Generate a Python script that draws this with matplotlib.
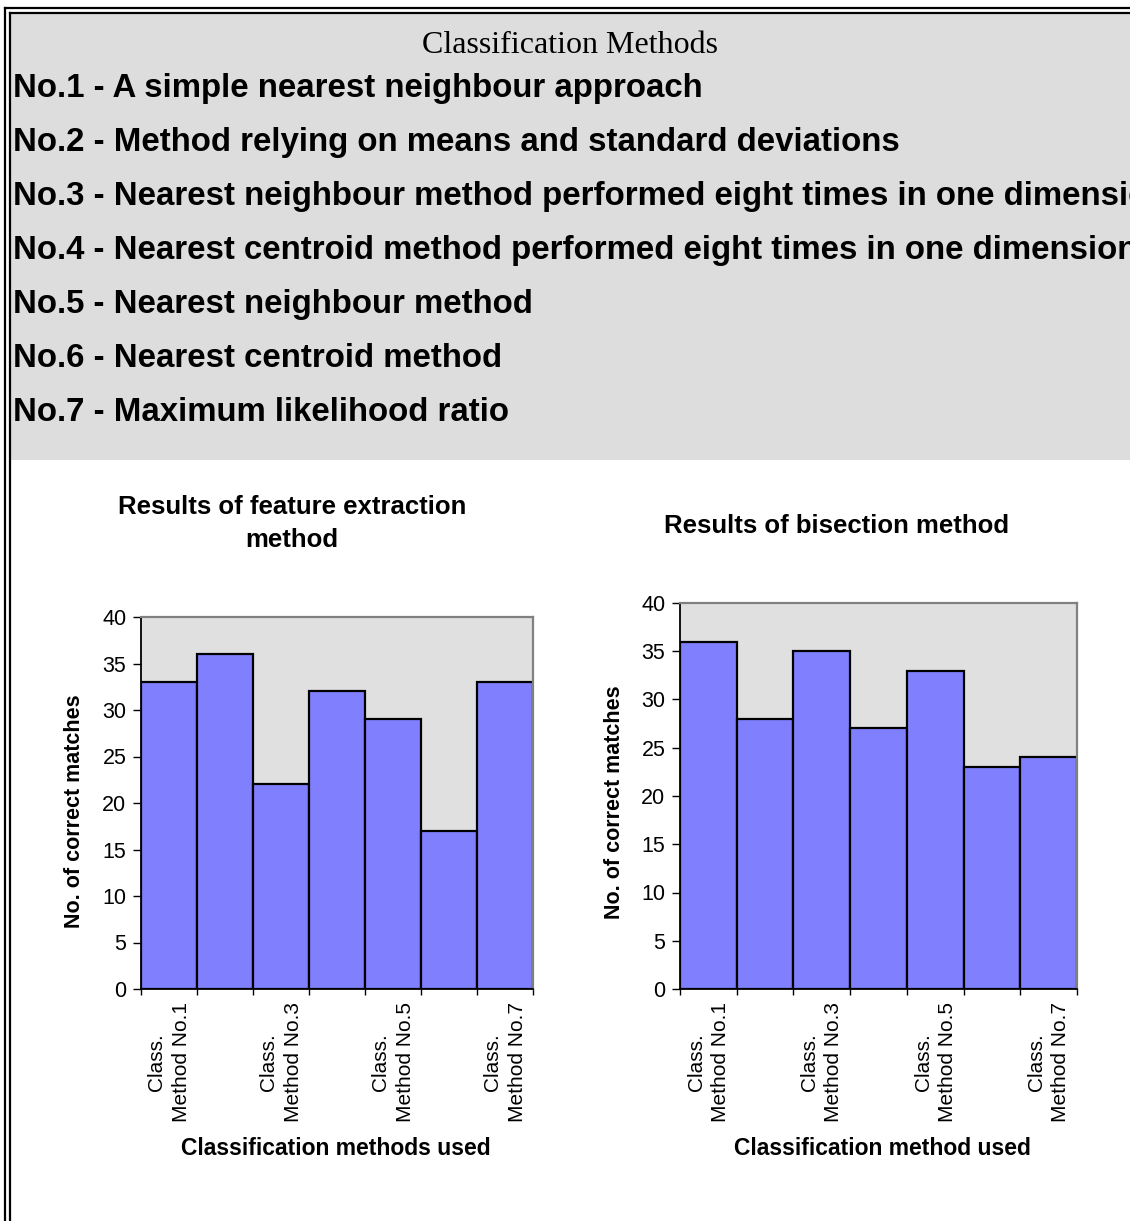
import matplotlib
matplotlib.use("Agg")
import matplotlib.pyplot as plt
from matplotlib.patches import Rectangle
from matplotlib.lines import Line2D

# ---- data ----
methods = [
    "No.1 - A simple nearest neighbour approach",
    "No.2 - Method relying on means and standard deviations",
    "No.3 - Nearest neighbour method performed eight times in one dimension",
    "No.4 - Nearest centroid method performed eight times in one dimension",
    "No.5 - Nearest neighbour method",
    "No.6 - Nearest centroid method",
    "No.7 - Maximum likelihood ratio",
]
categories = ["No.1", "No.2", "No.3", "No.4", "No.5", "No.6", "No.7"]
feature_extraction = [33, 36, 22, 32, 29, 17, 33]
bisection = [36, 28, 35, 27, 33, 23, 24]
tick_labels = ["Class.\nMethod No.1", "Class.\nMethod No.3",
               "Class.\nMethod No.5", "Class.\nMethod No.7"]
y_ticks = [0, 5, 10, 15, 20, 25, 30, 35, 40]

W, H = 1130, 1221
SANS = "Liberation Sans"
SERIF = "Liberation Serif"

fig = plt.figure(figsize=(W / 100, H / 100), dpi=100)
fig.patch.set_facecolor("white")


def fx(x):
    return x / W


def fy(y):
    return 1 - y / H


# header panel
fig.patches.append(Rectangle((fx(10), fy(460)), fx(W - 10), (460 - 13) / H,
                             transform=fig.transFigure, facecolor="#DDDDDD",
                             edgecolor="none", zorder=0))
# double frame along the top and left edges
for off in (5, 10):
    fig.add_artist(Line2D([fx(off), fx(off)], [fy(off + 3), 0], transform=fig.transFigure,
                          color="black", lw=1.6))
    fig.add_artist(Line2D([fx(off), 1], [fy(off + 3), fy(off + 3)], transform=fig.transFigure,
                          color="black", lw=1.6))

fig.text(fx(570), fy(53), "Classification Methods", family=SERIF, fontsize=23,
         ha="center", va="baseline")
for k, m in enumerate(methods):
    fig.text(fx(13), fy(97 + 54 * k), m, family=SANS, fontsize=23.8, fontweight="bold",
             ha="left", va="baseline")


def draw_chart(rect, values, title_lines, title_cx, title_base, ylabel_xy, xlabel, xlabel_xy):
    l, t, r, b = rect
    ax = fig.add_axes([fx(l), fy(b), (r - l) / W, (b - t) / H])
    ax.set_facecolor("#E0E0E0")
    pos = list(range(len(values)))
    ax.bar(pos, values, width=1.0, color="#8080FF", edgecolor="black", linewidth=1.6, zorder=2)
    ax.set_xlim(-0.5, len(values) - 0.5)
    ax.set_ylim(0, 40)
    ax.set_yticks(y_ticks)
    ax.set_yticklabels([str(v) for v in y_ticks], family=SANS, fontsize=15.5)
    ax.tick_params(axis="y", direction="out", length=5.5, width=1.0, pad=5)
    ax.set_xticks([p - 0.5 for p in pos] + [len(values) - 0.5])
    ax.set_xticklabels([])
    ax.tick_params(axis="x", which="major", direction="out", length=4.5, width=1.0)
    ax.set_xticks(pos[::2], minor=True)
    ax.set_xticklabels(tick_labels, minor=True, family=SANS, fontsize=15, rotation=90,
                       linespacing=1.35)
    ax.tick_params(axis="x", which="minor", length=0, pad=9.5)
    for lab in ax.get_xticklabels(minor=True):
        lab.set_multialignment("center")
    for s in ("left", "bottom"):
        ax.spines[s].set_color("black")
        ax.spines[s].set_linewidth(1.3)
    for s in ("top", "right"):
        ax.spines[s].set_color("#808080")
        ax.spines[s].set_linewidth(1.6)
    for i, line in enumerate(title_lines):
        fig.text(fx(title_cx), fy(title_base + 33 * i), line, family=SANS, fontsize=18.5,
                 fontweight="bold", ha="center", va="baseline")
    fig.text(fx(ylabel_xy[0]), fy(ylabel_xy[1]), "No. of correct matches", family=SANS,
             fontsize=15.5, fontweight="bold", rotation=90, ha="center", va="center")
    fig.text(fx(xlabel_xy[0]), fy(xlabel_xy[1]), xlabel, family=SANS, fontsize=16.5,
             fontweight="bold", ha="center", va="baseline")
    return ax


draw_chart((141, 617, 533, 989), feature_extraction,
           ["Results of feature extraction", "method"], 292, 514,
           (74, 811), "Classification methods used", (336, 1155))
draw_chart((680, 603, 1077, 989), bisection,
           ["Results of bisection method"], 837, 533,
           (614, 802), "Classification method used", (882, 1155))

fig.savefig("out.png", dpi=100)
